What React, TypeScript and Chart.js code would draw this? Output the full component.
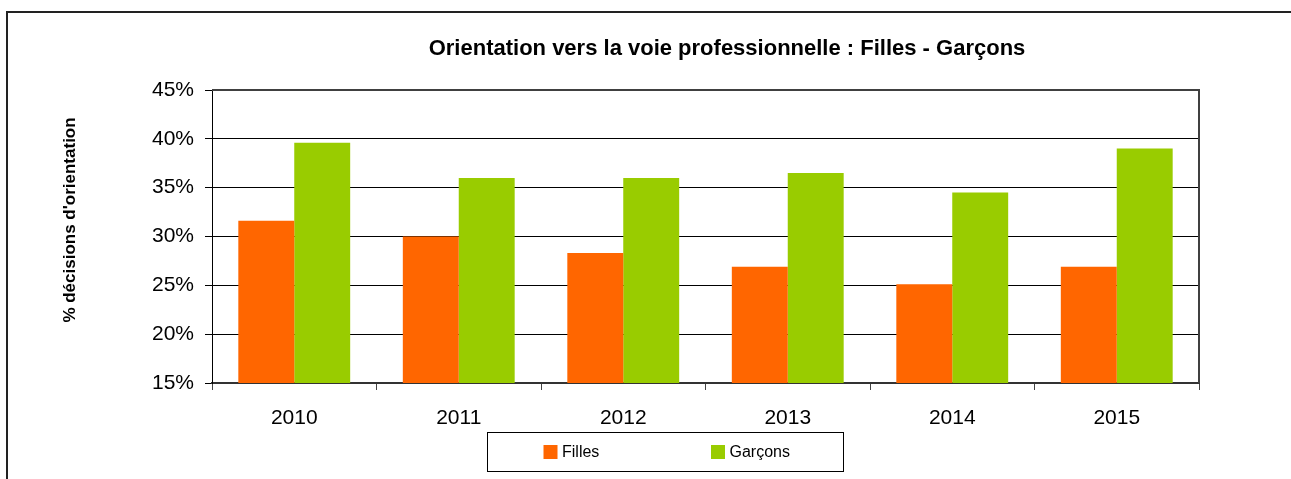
import React, { useEffect, useRef } from "react";
import { Chart, registerables } from "chart.js";

Chart.register(...registerables);

const categories = ["2010", "2011", "2012", "2013", "2014", "2015"];
const fillesValues = [31.6, 30.0, 28.3, 26.9, 25.1, 26.9];
const garconsValues = [39.6, 36.0, 36.0, 36.5, 34.5, 39.0];
const seriesLabels = ["Filles", "Garçons"];
const seriesColors = ["#FF6600", "#99CC00"];
const yTicks = { min: 15, max: 45, step: 5 };
const titleText = "Orientation vers la voie professionnelle : Filles - Garçons";
const yTitleText = "% décisions d'orientation";

const FONT = "'Liberation Sans', Arial, sans-serif";

const decorPlugin = {
  id: "decor",
  afterDatasetsDraw(chart: any) {
    const { ctx, chartArea } = chart;
    ctx.save();
    ctx.strokeStyle = "#404040";
    ctx.lineWidth = 2;
    ctx.beginPath();
    ctx.moveTo(chartArea.left, chartArea.top);
    ctx.lineTo(chartArea.right, chartArea.top);
    ctx.lineTo(chartArea.right, chartArea.bottom);
    ctx.stroke();
    ctx.restore();
  },
  afterDraw(chart: any) {
    const { ctx } = chart;
    ctx.save();
    ctx.fillStyle = "#000";
    ctx.font = `bold 22px ${FONT}`;
    ctx.textAlign = "center";
    ctx.textBaseline = "alphabetic";
    ctx.fillText(titleText, 727, 55);
    ctx.save();
    ctx.translate(70, 220);
    ctx.rotate(-Math.PI / 2);
    ctx.font = `bold 17px ${FONT}`;
    ctx.textAlign = "center";
    ctx.textBaseline = "middle";
    ctx.fillText(yTitleText, 0, 0);
    ctx.restore();
    const lx = 487, ly = 432, lw = 356, lh = 39;
    ctx.strokeStyle = "#000";
    ctx.lineWidth = 1;
    ctx.strokeRect(lx + 0.5, ly + 0.5, lw, lh);
    const starts = [543.5, 711];
    chart.data.datasets.forEach((ds: any, i: number) => {
      const x = starts[i];
      const cy = ly + lh / 2 + 0.5;
      ctx.fillStyle = ds.backgroundColor;
      ctx.fillRect(x, cy - 7, 14, 14);
      ctx.fillStyle = "#000";
      ctx.font = `16px ${FONT}`;
      ctx.textAlign = "left";
      ctx.textBaseline = "middle";
      ctx.fillText(ds.label, x + 18.5, cy + 0.5);
    });
    ctx.restore();
  },
};

export default function App() {
  const canvasRef = useRef<HTMLCanvasElement | null>(null);

  useEffect(() => {
    const canvas = canvasRef.current;
    if (!canvas) return;
    const chart = new Chart(canvas, {
      type: "bar",
      data: {
        labels: categories,
        datasets: [
          {
            label: seriesLabels[0],
            data: fillesValues,
            backgroundColor: seriesColors[0],
            borderWidth: 0,
            categoryPercentage: 0.68,
            barPercentage: 1.0,
          },
          {
            label: seriesLabels[1],
            data: garconsValues,
            backgroundColor: seriesColors[1],
            borderWidth: 0,
            categoryPercentage: 0.68,
            barPercentage: 1.0,
          },
        ],
      },
      options: {
        responsive: false,
        animation: false,
        devicePixelRatio: 1,
        layout: { padding: { left: 0, top: 90, right: 92, bottom: 0 } },
        plugins: {
          legend: { display: false },
          title: { display: false },
          tooltip: { enabled: false },
        },
        scales: {
          x: {
            z: 1,
            offset: true,
            grid: {
              offset: true,
              drawOnChartArea: false,
              drawTicks: true,
              tickLength: 7,
              color: "#444",
              lineWidth: 1,
            },
            border: { display: true, color: "#333", width: 2 },
            ticks: {
              color: "#000",
              font: { family: FONT, size: 21 },
              padding: 16,
              maxRotation: 0,
            },
            afterFit: (s: any) => {
              s.height = 96;
            },
          },
          y: {
            min: yTicks.min,
            max: yTicks.max,
            ticks: {
              stepSize: yTicks.step,
              color: "#000",
              font: { family: FONT, size: 21 },
              padding: 11,
              callback: (v: any) => `${v}%`,
            },
            grid: {
              color: "#000",
              lineWidth: 1,
              drawTicks: true,
              tickLength: 7,
            },
            border: { display: true, color: "#000", width: 1 },
            afterFit: (s: any) => {
              s.width = 212;
            },
          },
        },
      },
      plugins: [decorPlugin],
    });
    return () => chart.destroy();
  }, []);

  return (
    <div
      style={{
        position: "absolute",
        left: 0,
        top: 0,
        width: 1291,
        height: 479,
        overflow: "hidden",
        background: "#fff",
      }}
    >
      <div
        style={{
          position: "absolute",
          left: 6,
          top: 11,
          width: 1400,
          height: 600,
          borderTop: "2px solid #222",
          borderLeft: "2px solid #222",
        }}
      />
      <canvas
        ref={canvasRef}
        width={1291}
        height={479}
        style={{ position: "absolute", left: 0, top: 0, width: 1291, height: 479 }}
      />
    </div>
  );
}
